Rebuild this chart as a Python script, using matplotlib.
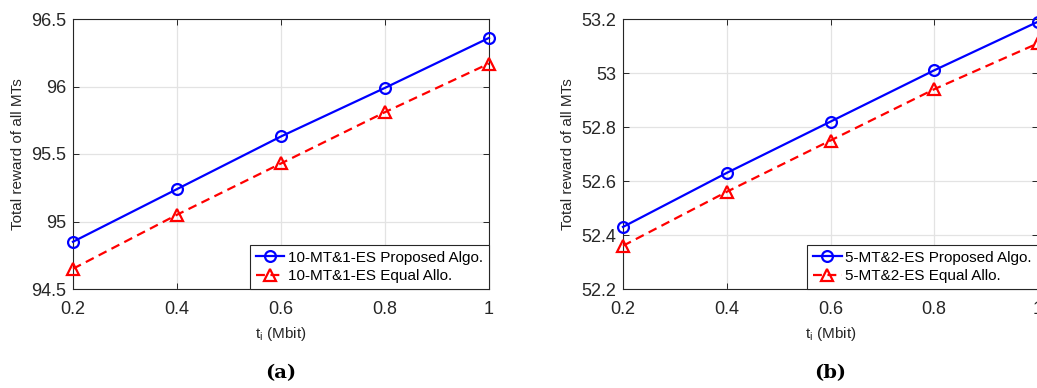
import matplotlib
matplotlib.use("Agg")
import matplotlib.pyplot as plt

plt.rcParams['font.family'] = ['Liberation Sans', 'DejaVu Sans']
plt.rcParams['mathtext.default'] = 'regular'

# data
t_i = [0.2, 0.4, 0.6, 0.8, 1.0]

a_proposed = [94.85, 95.24, 95.63, 95.99, 96.36]
a_equal = [94.65, 95.05, 95.43, 95.81, 96.17]

b_proposed = [52.43, 52.63, 52.82, 53.01, 53.19]
b_equal = [52.36, 52.56, 52.75, 52.94, 53.11]

a_yticks = [94.5, 95, 95.5, 96, 96.5]
a_yticklabels = ['94.5', '95', '95.5', '96', '96.5']
b_yticks = [52.2, 52.4, 52.6, 52.8, 53.0, 53.2]
b_yticklabels = ['52.2', '52.4', '52.6', '52.8', '53', '53.2']
xticklabels = ['0.2', '0.4', '0.6', '0.8', '1']

a_labels = ['10-MT&1-ES Proposed Algo.', '10-MT&1-ES Equal Allo.']
b_labels = ['5-MT&2-ES Proposed Algo.', '5-MT&2-ES Equal Allo.']

W, H = 1037, 388
fig = plt.figure(figsize=(W / 100, H / 100), dpi=100)

dark = '#262626'


def make_panel(rect, prop, equal, yticks, yticklabels, ylim, labels, caption):
    ax = fig.add_axes(rect)
    ax.plot(t_i, prop, '-o', color='#0000ff', lw=1.6, ms=7.8, mfc='none', mew=1.6,
            clip_on=False, zorder=3, label=labels[0])
    ax.plot(t_i, equal, '--^', color='#ff0000', lw=1.6, ms=8.2, mfc='none', mew=1.6,
            clip_on=False, zorder=3, label=labels[1], dashes=(4, 2.5))
    ax.set_xlim(0.2, 1.0)
    ax.set_ylim(*ylim)
    ax.set_xticks(t_i)
    ax.set_xticklabels(xticklabels)
    ax.set_yticks(yticks)
    ax.set_yticklabels(yticklabels)
    ax.grid(True, color='#e3e3e3', lw=0.9)
    ax.set_axisbelow(True)
    ax.tick_params(direction='in', top=True, right=True, labelsize=13,
                   colors=dark, length=4, width=0.7)
    ax.tick_params(axis='x', pad=9)
    ax.tick_params(axis='y', pad=5)
    for s in ax.spines.values():
        s.set_color(dark)
        s.set_linewidth(0.8)
    ax.set_xlabel('t$_{i}$ (Mbit)', fontsize=11, color=dark, labelpad=5)
    ax.set_ylabel('Total reward of all MTs', fontsize=11, color=dark, labelpad=4)
    leg = ax.legend(loc='lower right', borderaxespad=0, fontsize=11, fancybox=False,
                    framealpha=1, edgecolor=dark, handlelength=1.85, handletextpad=0.25,
                    borderpad=0.4, labelspacing=0.28)
    leg.get_frame().set_linewidth(0.8)
    cx = rect[0] + rect[2] / 2
    fig.text(cx, 15 / H, caption, ha='center', va='center', fontsize=14,
             family='DejaVu Serif', fontweight='bold')
    return ax


make_panel([73 / W, 99 / H, 416 / W, 270 / H], a_proposed, a_equal,
           a_yticks, a_yticklabels, (94.5, 96.5), a_labels, '(a)')
make_panel([623 / W, 99 / H, 415 / W, 270 / H], b_proposed, b_equal,
           b_yticks, b_yticklabels, (52.2, 53.2), b_labels, '(b)')

fig.savefig('out.png', dpi=100)
